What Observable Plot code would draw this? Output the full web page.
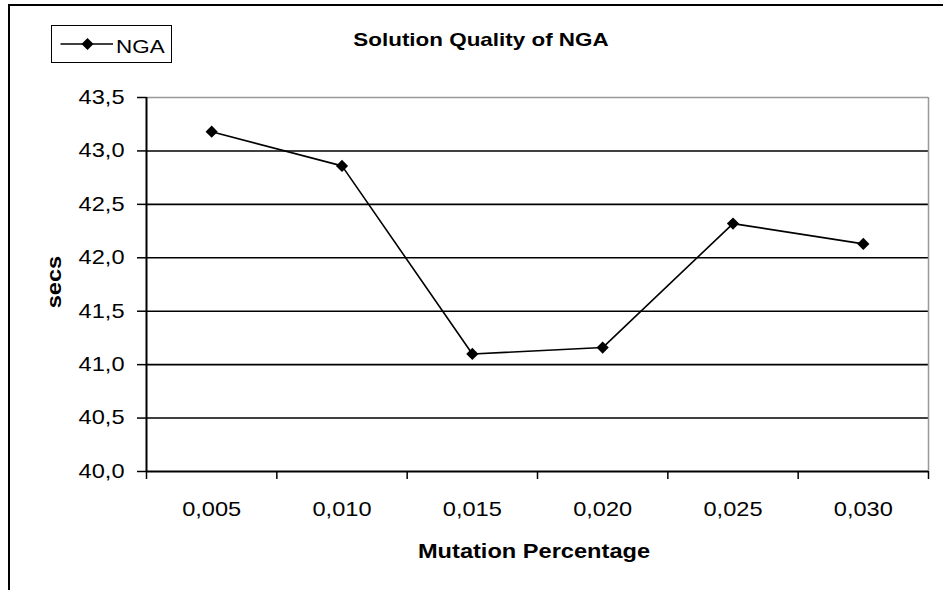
<!DOCTYPE html>
<html>
<head>
<meta charset="utf-8">
<script src="https://cdn.jsdelivr.net/npm/d3@7"></script>
<script src="https://cdn.jsdelivr.net/npm/@observablehq/plot@0.6"></script>
<style>
  html, body { margin: 0; padding: 0; background: #fff; }
  #wrap { position: relative; width: 943px; height: 590px; overflow: hidden; font-family: "Liberation Sans", Arial, sans-serif; color: #000; }
  #frame { position: absolute; left: 8px; top: 3.5px; width: 960px; height: 620px; border: 2px solid #000; box-sizing: border-box; }
  #chart { position: absolute; left: 0; top: 0; }
  .t { position: absolute; white-space: nowrap; line-height: 1; }
  #title { left: 480.5px; top: 30px; font-weight: bold; font-size: 19px; transform: translateX(-50%) scaleX(1.18); }
  #legend { position: absolute; left: 51px; top: 25px; width: 121px; height: 38px; border: 1.5px solid #000; box-sizing: border-box; }
  #legend svg { position: absolute; left: 7px; top: 9px; }
  #legtext { left: 64px; top: 11px; font-size: 19px; transform-origin: 0 50%; transform: scaleX(1.18); }
  #ylab { left: 53.5px; top: 281.5px; font-weight: bold; font-size: 20px; transform: translate(-50%, -50%) rotate(-90deg) scaleX(1.18); }
  #xlab { left: 534px; top: 541px; font-weight: bold; font-size: 20px; transform: translateX(-50%) scaleX(1.18); }
</style>
</head>
<body>
<div id="wrap">
  <div id="frame"></div>
  <div id="chart"></div>
  <div id="legend">
    <svg width="56" height="18"><line x1="1.5" y1="9" x2="54" y2="9" stroke="#000" stroke-width="1.5"/><path d="M28.5,3 L34.5,9 L28.5,15 L22.5,9 Z" fill="#000"/></svg>
    <div class="t" id="legtext">NGA</div>
  </div>
  <div class="t" id="title">Solution Quality of NGA</div>
  <div class="t" id="ylab">secs</div>
  <div class="t" id="xlab">Mutation Percentage</div>
</div>
<script>
const categories = ["0,005", "0,010", "0,015", "0,020", "0,025", "0,030"];
const values = [43.18, 42.86, 41.10, 41.16, 42.32, 42.13];
const yTicks = [40.0, 40.5, 41.0, 41.5, 42.0, 42.5, 43.0, 43.5];
const seriesName = "NGA";

const data = categories.map((c, i) => ({i, label: c, value: values[i], series: seriesName}));
const fmt = d => d.toFixed(1).replace(".", ",");
const boundaries = d3.range(categories.length + 1);
const centers = categories.map((c, i) => i + 0.5);

const chart = Plot.plot({
  width: 943,
  height: 590,
  marginLeft: 146,
  marginRight: 15,
  marginTop: 97,
  marginBottom: 119,
  style: {fontFamily: "'Liberation Sans', Arial, sans-serif", background: "transparent", color: "#000"},
  x: {domain: [0, categories.length]},
  y: {domain: [40, 43.5]},
  marks: [
    Plot.ruleY(yTicks.filter(t => t > 40 && t < 43.5), {stroke: "#000", strokeWidth: 1.6}),
    Plot.ruleY([43.5], {stroke: "#999", strokeWidth: 1.5}),
    Plot.ruleX([categories.length], {stroke: "#999", strokeWidth: 1.5}),
    Plot.ruleX([0], {stroke: "#000", strokeWidth: 2}),
    Plot.ruleY([40], {stroke: "#000", strokeWidth: 2}),
    Plot.axisY({ticks: yTicks, tickFormat: fmt, tickSize: 9, tickPadding: 13, fontSize: 20, label: null, strokeWidth: 1.5}),
    Plot.axisX({ticks: boundaries, tickFormat: () => "", tickSize: 8, label: null, strokeWidth: 1.5}),
    Plot.axisX({ticks: centers, tickFormat: (d) => categories[Math.round(d - 0.5)], tickSize: 0, tickPadding: 30, fontSize: 20, label: null}),
    Plot.line(data, {x: d => d.i + 0.5, y: "value", stroke: "#000", strokeWidth: 1.6}),
    Plot.dot(data, {x: d => d.i + 0.5, y: "value", symbol: "diamond2", r: 5.5, fill: "#000", stroke: "none"})
  ]
});
// the reference's lettering is horizontally wider than Arial; stretch tick labels
chart.querySelectorAll("text").forEach(t => {
  const tr = t.getAttribute("transform");
  if (tr) t.setAttribute("transform", tr + " scale(1.18,1)");
});
document.getElementById("chart").appendChild(chart);
</script>
</body>
</html>
